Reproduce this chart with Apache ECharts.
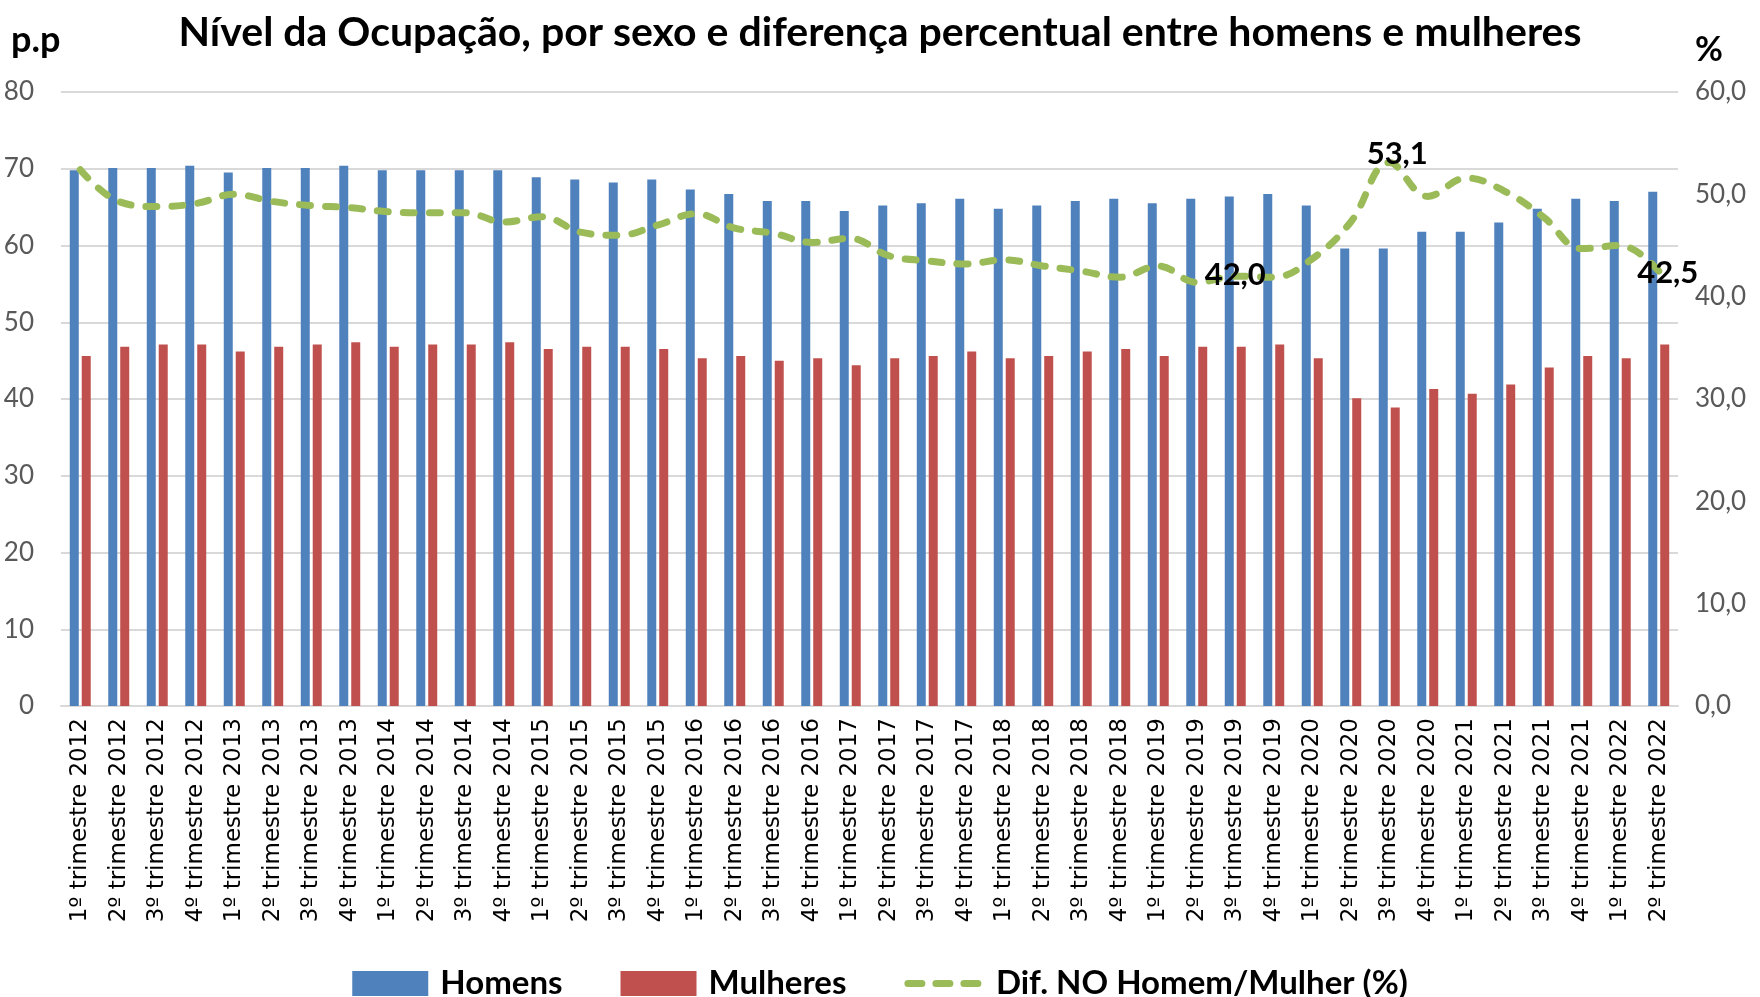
<!DOCTYPE html>
<html>
<head>
<meta charset="utf-8">
<script src="https://cdn.jsdelivr.net/npm/echarts@6/dist/echarts.min.js"></script>
<style>
html, body { margin: 0; padding: 0; background: #fff; }
#chart { width: 1760px; height: 997px; }
</style>
</head>
<body>
<div id="chart"></div>
<script>
var categorias = [
    '1º trimestre 2012', '2º trimestre 2012', '3º trimestre 2012', '4º trimestre 2012',
    '1º trimestre 2013', '2º trimestre 2013', '3º trimestre 2013', '4º trimestre 2013',
    '1º trimestre 2014', '2º trimestre 2014', '3º trimestre 2014', '4º trimestre 2014',
    '1º trimestre 2015', '2º trimestre 2015', '3º trimestre 2015', '4º trimestre 2015',
    '1º trimestre 2016', '2º trimestre 2016', '3º trimestre 2016', '4º trimestre 2016',
    '1º trimestre 2017', '2º trimestre 2017', '3º trimestre 2017', '4º trimestre 2017',
    '1º trimestre 2018', '2º trimestre 2018', '3º trimestre 2018', '4º trimestre 2018',
    '1º trimestre 2019', '2º trimestre 2019', '3º trimestre 2019', '4º trimestre 2019',
    '1º trimestre 2020', '2º trimestre 2020', '3º trimestre 2020', '4º trimestre 2020',
    '1º trimestre 2021', '2º trimestre 2021', '3º trimestre 2021', '4º trimestre 2021',
    '1º trimestre 2022', '2º trimestre 2022'
];

// nível da ocupação (p.p)
var homens = [69.8, 70.1, 70.1, 70.4, 69.5, 70.1, 70.1, 70.4, 69.8, 69.8, 69.8, 69.8, 68.9, 68.6,
    68.2, 68.6, 67.3, 66.7, 65.8, 65.8, 64.5, 65.2, 65.5, 66.1, 64.8, 65.2, 65.8, 66.1,
    65.5, 66.1, 66.4, 66.7, 65.2, 59.6, 59.6, 61.8, 61.8, 63.0, 64.8, 66.1, 65.8, 67.0];
var mulheres = [45.6, 46.8, 47.1, 47.1, 46.2, 46.8, 47.1, 47.4, 46.8, 47.1, 47.1, 47.4, 46.5, 46.8,
    46.8, 46.5, 45.3, 45.6, 45.0, 45.3, 44.4, 45.3, 45.6, 46.2, 45.3, 45.6, 46.2, 46.5,
    45.6, 46.8, 46.8, 47.1, 45.3, 40.1, 38.9, 41.3, 40.7, 41.9, 44.1, 45.6, 45.3, 47.1];
// diferença percentual (%)
var diferenca = [52.4, 49.3, 48.8, 49.1, 50.0, 49.3, 48.9, 48.7, 48.3, 48.2, 48.2, 47.3, 47.8, 46.3,
    46.0, 47.0, 48.1, 46.7, 46.2, 45.3, 45.7, 44.0, 43.5, 43.2, 43.6, 43.0, 42.5, 41.9,
    43.0, 41.4, 42.0, 41.9, 43.7, 47.3, 53.1, 49.8, 51.6, 50.3, 47.8, 44.7, 45.0, 42.5];
// pontos com rótulo
var rotulados = [30, 34, 41];

var fmt = function (v) { return v.toFixed(1).replace('.', ','); };

var rotuloOffset = { 30: [0, -1], 34: [8, -9], 41: [9, 2] };
var difData = diferenca.map(function (v, i) {
    if (rotulados.indexOf(i) < 0) return v;
    return {
        value: v,
        label: {
            show: true,
            position: 'inside',
            offset: rotuloOffset[i],
            formatter: function (p) { return fmt(p.value); },
            fontFamily: 'Lato',
            fontWeight: 'bold',
            fontSize: 31,
            color: '#000'
        }
    };
});

var myChart = echarts.init(document.getElementById('chart'));

var option = {
    backgroundColor: '#fff',
    animation: false,
    title: {
        text: 'Nível da Ocupação, por sexo e diferença percentual entre homens e mulheres',
        left: 'center',
        top: 7,
        textStyle: {
            fontFamily: 'Lato',
            fontWeight: 'bold',
            fontSize: 41,
            color: '#000'
        }
    },
    graphic: [{
        type: 'text',
        left: 11,
        top: 22,
        style: { text: 'p.p', fontFamily: 'Lato', fontWeight: 'bold', fontSize: 36, fill: '#000' }
    }, {
        type: 'text',
        left: 1695,
        top: 33,
        style: { text: '%', fontFamily: 'Lato', fontWeight: 'bold', fontSize: 34, fill: '#000' }
    }],
    legend: {
        top: 962,
        left: 'center',
        itemWidth: 76,
        itemHeight: 25,
        itemGap: 58,
        textStyle: {
            fontFamily: 'Lato',
            fontWeight: 'bold',
            fontSize: 33,
            color: '#000',
            padding: [0, 0, 0, 7]
        },
        data: [
            { name: 'Homens', icon: 'rect' },
            { name: 'Mulheres', icon: 'rect' },
            {
                name: 'Dif. NO Homem/Mulher (%)',
                itemStyle: { opacity: 0 },
                lineStyle: { width: 7, type: [14, 14], cap: 'round' }
            }
        ]
    },
    grid: {
        left: 61,
        right: 82,
        top: 92,
        bottom: 291
    },
    xAxis: [{
        type: 'category',
        data: categorias,
        axisTick: { show: false },
        axisLine: { lineStyle: { color: '#D9D9D9', width: 2 } },
        axisLabel: {
            interval: 0,
            rotate: 90,
            margin: 12,
            fontFamily: 'DejaVu Sans',
            fontSize: 23,
            color: '#000'
        }
    }],
    yAxis: [{
        type: 'value',
        min: 0,
        max: 80,
        interval: 10,
        axisLine: { show: false },
        axisTick: { show: false },
        splitLine: { lineStyle: { color: '#D9D9D9', width: 2 } },
        axisLabel: {
            margin: 27,
            fontFamily: 'Lato',
            fontSize: 26,
            color: '#595959'
        }
    }, {
        type: 'value',
        min: 0,
        max: 60,
        interval: 10,
        axisLine: { show: false },
        axisTick: { show: false },
        splitLine: { show: false },
        axisLabel: {
            margin: 17,
            fontFamily: 'Lato',
            fontSize: 26,
            color: '#595959',
            formatter: fmt
        }
    }],
    series: [{
        name: 'Homens',
        type: 'bar',
        data: homens,
        barWidth: 9,
        barGap: '33%',
        itemStyle: { color: '#4F81BD' }
    }, {
        name: 'Mulheres',
        type: 'bar',
        data: mulheres,
        barWidth: 9,
        itemStyle: { color: '#C0504D' }
    }, {
        name: 'Dif. NO Homem/Mulher (%)',
        type: 'line',
        yAxisIndex: 1,
        data: difData,
        smooth: 0.4,
        symbol: 'circle',
        symbolSize: 0,
        showSymbol: true,
        itemStyle: { color: '#9BBB59' },
        lineStyle: {
            color: '#9BBB59',
            width: 7,
            type: [11, 15],
            cap: 'round'
        },
        z: 5
    }]
};
myChart.setOption(option);
</script>
</body>
</html>
